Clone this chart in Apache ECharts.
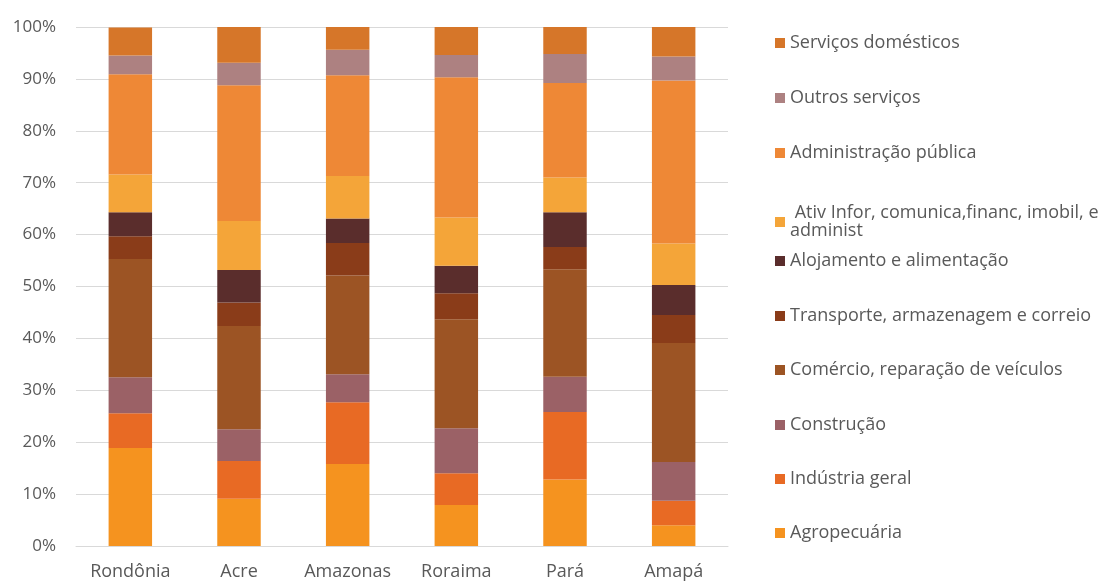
<!DOCTYPE html>
<html>
<head>
<meta charset="utf-8">
<script src="https://cdn.jsdelivr.net/npm/echarts@6/dist/echarts.min.js"></script>
<style>
  html, body { margin: 0; padding: 0; background: #fff; }
  #chart { width: 1112px; height: 581px; }
</style>
</head>
<body>
<div id="chart"></div>
<script>
// estados
const categories = ['Rondônia', 'Acre', 'Amazonas', 'Roraima', 'Pará', 'Amapá'];

// participação (%) por setor, de baixo para cima na pilha
const agropecuaria   = [18.9,  9.1, 15.8,  7.9, 12.8,  4.0];
const industria      = [ 6.7,  7.3, 11.9,  6.1, 13.0,  4.7];
const construcao     = [ 6.9,  6.1,  5.4,  8.7,  6.8,  7.5];
const comercio       = [22.8, 19.9, 19.0, 21.0, 20.7, 22.9];
const transporte     = [ 4.4,  4.5,  6.3,  5.0,  4.3,  5.4];
const alojamento     = [ 4.6,  6.3,  4.7,  5.3,  6.7,  5.8];
const ativInfor      = [ 7.3,  9.4,  8.2,  9.3,  6.7,  8.0];
const administracao  = [19.3, 26.2, 19.4, 27.0, 18.2, 31.4];
const outrosServicos = [ 3.6,  4.3,  4.9,  4.3,  5.6,  4.6];
const servDomesticos = [ 5.4,  6.9,  4.4,  5.4,  5.2,  5.7];

const yTicks = [0, 10, 20, 30, 40, 50, 60, 70, 80, 90, 100];

const seriesDefs = [
    { name: 'Agropecuária', data: agropecuaria, color: '#f5931f' },
    { name: 'Indústria geral', data: industria, color: '#e86a24' },
    { name: 'Construção', data: construcao, color: '#9b6166' },
    { name: 'Comércio, reparação de veículos', data: comercio, color: '#9c5424' },
    { name: 'Transporte, armazenagem e correio', data: transporte, color: '#8a3c19' },
    { name: 'Alojamento e alimentação', data: alojamento, color: '#5a2d2c' },
    { name: ' Ativ Infor, comunica,financ, imobil, e\nadminist', data: ativInfor, color: '#f4a539' },
    { name: 'Administração pública', data: administracao, color: '#ee8836' },
    { name: 'Outros serviços', data: outrosServicos, color: '#ad8181' },
    { name: 'Serviços domésticos', data: servDomesticos, color: '#d67629' }
];

const font = '"Open Sans", "Noto Sans", sans-serif';

// legenda: um bloco por item, de cima para baixo
const legendOrder = seriesDefs.slice().reverse();
const legendTops = [34, 89, 144, 204, 252, 307, 361, 416, 470, 524];
const legends = legendOrder.map((s, i) => ({
    data: [s.name],
    left: 775,
    top: legendTops[i],
    padding: 0,
    orient: 'vertical',
    itemWidth: 10,
    itemHeight: 10,
    icon: 'rect',
    textStyle: { fontFamily: font, fontSize: 18, color: '#595959', lineHeight: 18 }
}));

const chart = echarts.init(document.getElementById('chart'), null, { renderer: 'canvas' });

const option = {
    animation: false,
    backgroundColor: '#fff',
    textStyle: { fontFamily: font },
    legend: legends,
    grid: { left: 76, right: 384, top: 27, bottom: 35 },
    xAxis: {
        type: 'category',
        data: categories,
        axisLine: { show: true, lineStyle: { color: '#d9d9d9', width: 1 } },
        axisTick: { show: false },
        axisLabel: { fontFamily: font, fontSize: 18, color: '#595959', margin: 17, interval: 0 }
    },
    yAxis: {
        type: 'value',
        min: yTicks[0],
        max: yTicks[yTicks.length - 1],
        interval: 10,
        axisLine: { show: false },
        axisTick: { show: false },
        splitLine: { lineStyle: { color: '#d9d9d9', width: 1 } },
        axisLabel: { fontFamily: font, fontSize: 17, color: '#595959', margin: 20, formatter: '{value}%' }
    },
    series: seriesDefs.map(s => ({
        name: s.name,
        type: 'bar',
        stack: 'total',
        data: s.data,
        barWidth: '40%',
        itemStyle: { color: s.color }
    }))
};

chart.setOption(option);
</script>
</body>
</html>
